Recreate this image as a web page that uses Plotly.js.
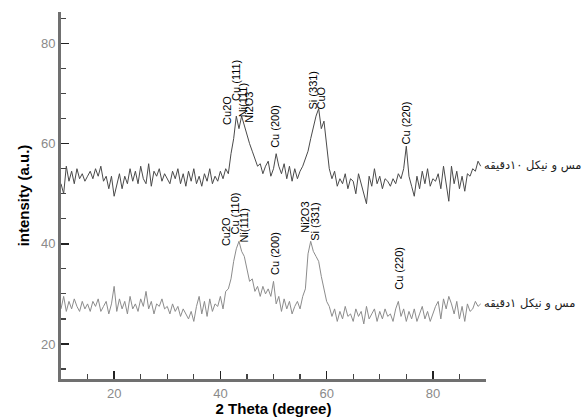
<!DOCTYPE html>
<html>
<head>
<meta charset="utf-8">
<script src="https://cdn.plot.ly/plotly-3.0.1.min.js"></script>
<style>html,body{margin:0;padding:0;background:#fff;}#chart{width:584px;height:417px;}</style>
</head>
<body>
<div id="chart"></div>
<script>
// 2θ sampling grid (degrees)
var twoThetaStart = 10;
var twoThetaStep = 0.5;

// Upper pattern, 2θ = 10 ... 89 step 0.5
var intensityTop = [
  52.0,50.0,55.5,52.5,54.5,52.0,55.0,53.0,54.0,52.5,
  53.5,54.5,53.0,55.0,53.5,55.5,52.5,53.5,51.0,53.5,
  49.5,52.0,54.0,51.0,53.5,52.0,55.0,52.5,54.5,52.0,
  55.5,53.0,52.0,56.0,51.5,54.5,53.5,55.0,52.5,54.0,
  53.0,52.0,54.5,53.0,55.0,52.0,54.0,51.5,54.5,52.5,
  55.0,52.0,53.5,51.5,54.0,52.5,55.0,52.0,53.5,52.5,
  54.5,53.0,55.0,54.0,58.0,61.0,65.5,63.0,65.5,63.5,
  62.0,60.0,58.5,57.0,55.5,56.0,54.0,55.5,56.5,53.5,
  55.0,58.0,55.5,54.0,56.0,53.0,55.5,52.5,55.0,53.0,
  54.5,55.5,57.0,58.5,61.0,63.5,65.5,67.0,63.0,64.5,
  60.0,55.0,53.0,54.5,51.5,53.0,52.0,54.0,51.0,53.0,
  52.5,50.0,54.0,52.0,49.5,48.0,53.5,51.5,55.0,52.0,
  53.5,51.0,53.0,52.5,51.5,53.0,52.0,54.0,53.0,55.0,
  59.5,53.5,51.5,49.5,53.5,51.0,54.5,52.0,55.0,51.5,
  53.0,52.5,54.0,51.0,55.5,52.0,48.5,55.5,52.0,54.5,
  51.0,53.5,50.5,54.0,53.5,55.0,54.5,56.5,55.5
];

// Lower pattern, 2θ = 10 ... 89 step 0.5
var intensityBottom = [
  27.0,29.5,26.5,28.5,27.0,29.0,27.5,26.5,28.5,27.0,
  28.0,26.5,28.5,27.5,29.0,26.5,27.5,28.5,26.0,28.0,
  31.5,26.5,29.0,27.0,28.5,26.0,29.5,27.0,28.0,26.5,
  29.0,27.5,30.5,27.0,28.5,26.0,28.0,27.5,29.0,27.0,
  27.5,26.0,28.0,26.5,27.5,25.5,27.0,26.0,25.0,26.5,
  24.5,27.5,29.5,26.0,28.5,25.5,29.0,26.5,28.0,27.5,
  29.5,27.0,30.5,31.0,33.0,36.5,39.0,40.5,38.5,37.5,
  35.0,32.5,33.0,30.5,31.5,29.5,31.5,30.0,31.0,29.5,
  32.5,28.0,29.5,26.5,29.0,27.0,28.5,26.0,27.5,28.5,
  27.0,29.5,31.0,38.0,40.5,38.5,37.5,36.5,33.5,31.0,
  28.5,27.5,25.5,27.0,24.5,26.5,25.0,27.5,25.5,26.0,
  24.5,27.0,25.5,26.5,24.0,27.5,25.0,26.0,27.0,24.5,
  26.5,25.0,27.0,25.5,26.0,24.5,27.0,28.5,25.5,27.0,
  24.5,26.5,25.0,27.0,24.5,26.0,27.5,25.0,26.5,24.5,
  26.0,27.5,28.5,25.0,29.0,27.0,29.5,28.0,26.0,28.5,
  25.0,27.5,24.5,28.0,26.5,27.0,28.5,27.5,28.0
];

// Peak labels
var topLabels = ["Cu2O", "Cu (111)", "Ni(111)", "Ni2O3", "Cu (200)", "Si (331)", "CuO", "Cu (220)"];
var topLabelX = [41.2, 42.9, 44.2, 45.5, 50.4, 57.5, 59.0, 75.0];
var topLabelY = [63.4, 68.2, 64.8, 63.8, 58.8, 66.4, 66.4, 59.4];

var bottomLabels = ["Cu2O", "Cu (110)", "Ni(111)", "Cu (200)", "Ni2O3", "Si (331)", "Cu (220)"];
var bottomLabelX = [41.2, 42.7, 44.4, 50.4, 56.0, 57.9, 73.7];
var bottomLabelY = [39.2, 41.4, 39.8, 33.4, 41.8, 40.2, 30.4];

// Series names (Persian)
var seriesNames = ["مس و نیکل ۱۰دقیقه", "مس و نیکل ۱دقیقه"];
var seriesNameX = [89.2, 89.2];
var seriesNameY = [55.6, 28.0];

var x = [];
for (var i = 0; i < intensityTop.length; i++) x.push(twoThetaStart + i * twoThetaStep);

var traces = [
  {x: x, y: intensityTop, type: "scatter", mode: "lines",
   line: {color: "#4a4a4a", width: 1}, hoverinfo: "x+y"},
  {x: x, y: intensityBottom, type: "scatter", mode: "lines",
   line: {color: "#8c8c8c", width: 1}, hoverinfo: "x+y"}
];

var annotations = [];
function addLabels(labels, xs, ys) {
  for (var i = 0; i < labels.length; i++) {
    annotations.push({
      x: xs[i], y: ys[i], xref: "x", yref: "y",
      text: labels[i], showarrow: false, textangle: -90,
      xanchor: "center", yanchor: "bottom",
      font: {family: "Liberation Sans, Arial, sans-serif", size: 11, color: "#000"}
    });
  }
}
addLabels(topLabels, topLabelX, topLabelY);
addLabels(bottomLabels, bottomLabelX, bottomLabelY);

for (var k = 0; k < seriesNames.length; k++) {
  annotations.push({
    x: seriesNameX[k], y: seriesNameY[k], xref: "x", yref: "y",
    text: seriesNames[k], showarrow: false,
    xanchor: "left", yanchor: "middle",
    font: {family: "DejaVu Sans, sans-serif", size: 11.5, color: "#222"}
  });
}

var axisCommon = {
  showline: true, linecolor: "#707070", linewidth: 3,
  showgrid: false, zeroline: false,
  ticks: "inside", ticklen: 8, tickwidth: 1.5, tickcolor: "#222",
  tickfont: {family: "Liberation Sans, Arial, sans-serif", size: 13, color: "#8a8a8a"},
  minor: {dtick: 5, ticks: "inside", ticklen: 5, tickwidth: 1.2, tickcolor: "#444", showgrid: false}
};

var layout = {
  width: 584, height: 417,
  margin: {l: 61, r: 98, t: 12, b: 38},
  paper_bgcolor: "#fff", plot_bgcolor: "#fff",
  showlegend: false,
  xaxis: Object.assign({}, axisCommon, {
    range: [10, 90], dtick: 20, tick0: 0,
    title: {text: "2 Theta (degree)", standoff: 3,
            font: {family: "Liberation Sans, Arial, sans-serif", size: 15, color: "#000", weight: "bold"}}
  }),
  yaxis: Object.assign({}, axisCommon, {
    range: [13, 86.3], dtick: 20, tick0: 0,
    title: {text: "intensity (a.u.)", standoff: 8,
            font: {family: "Liberation Sans, Arial, sans-serif", size: 15, color: "#000", weight: "bold"}}
  }),
  annotations: annotations
};

Plotly.newPlot("chart", traces, layout, {displayModeBar: false, staticPlot: true});
</script>
</body>
</html>
